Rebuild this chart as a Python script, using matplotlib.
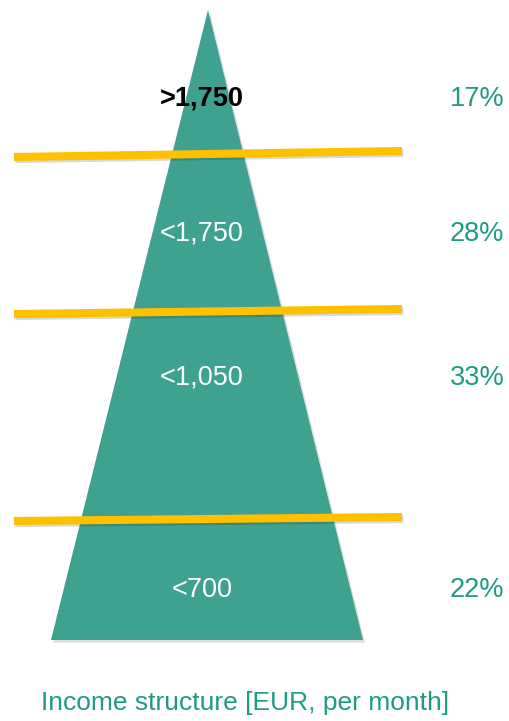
import matplotlib.pyplot as plt
import matplotlib.patheffects as pe
from matplotlib.patches import Polygon
from matplotlib import font_manager

# income brackets, top to bottom, and share of households
brackets = ['>1,750', '<1,750', '<1,050', '<700']
shares = [17, 28, 33, 22]
caption = 'Income structure [EUR, per month]'

names = {f.name for f in font_manager.fontManager.ttflist}
narrow = 'Liberation Sans Narrow' if 'Liberation Sans Narrow' in names else 'Liberation Sans'

teal = '#3fa291'
teal_txt = '#1f9a86'
orange = '#ffc000'

fig = plt.figure(figsize=(5.09, 7.21), dpi=100)
ax = fig.add_axes([0, 0, 1, 1])
ax.set_xlim(0, 509)
ax.set_ylim(721, 0)
ax.axis('off')

shadow = [pe.SimplePatchShadow(offset=(1.5, -2), alpha=0.15), pe.Normal()]
tri = Polygon([(208, 10), (51, 640), (363, 640)], closed=True,
              facecolor=teal, edgecolor='none', path_effects=shadow)
ax.add_patch(tri)

# divider lines between brackets (slightly tilted)
dividers = [(157, 151), (314, 309), (521, 517)]
for yl, yr in dividers:
    ax.plot([14, 402], [yl, yr], color=orange, lw=5.8, solid_capstyle='butt',
            path_effects=[pe.SimpleLineShadow(offset=(1, -1.5), alpha=0.15), pe.Normal()])

label_y = [99, 234, 378, 590]
for i, (b, s, y) in enumerate(zip(brackets, shares, label_y)):
    if i == 0:
        ax.text(202, y, b, ha='center', va='center', fontsize=19.5, color='black',
                fontweight='bold', family=narrow)
    else:
        ax.text(202, y, b, ha='center', va='center', fontsize=19.5, color='white',
                family=narrow)
    ax.text(477, y, f'{s}%', ha='center', va='center', fontsize=19.5,
            color=teal_txt, family=narrow)

ax.text(245, 703, caption, ha='center', va='center', fontsize=19,
        color=teal_txt, family=narrow)

fig.savefig('out.png', dpi=100)
